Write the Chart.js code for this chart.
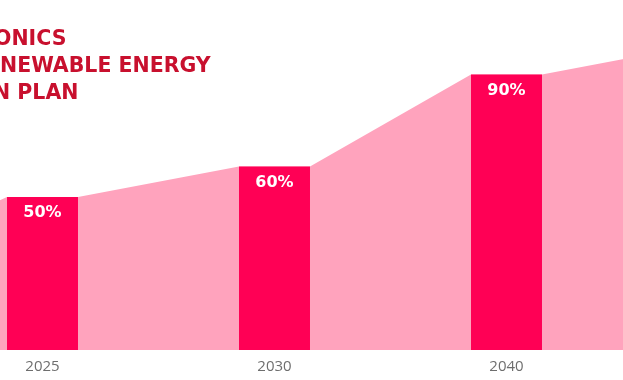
<!DOCTYPE html>
<html>
<head>
<meta charset="utf-8">
<script src="https://cdn.jsdelivr.net/npm/chart.js@4/dist/chart.umd.min.js"></script>
<style>
  html, body { margin: 0; padding: 0; background: #ffffff; }
  #vista { position: relative; width: 623px; height: 380px; overflow: hidden; }
  #grafico { position: absolute; left: -80px; top: 0; }
</style>
</head>
<body>
<div id="vista">
  <canvas id="grafico" width="940" height="388"></canvas>
</div>
<script>
// dados do gráfico
var anos = ['2025', '2030', '2040', '2050'];
var percentuais = [50, 60, 90, 100];
var areaInicio = 38; // valor da área na borda esquerda
var linhasTitulo = ['ONICS', 'NEWABLE ENERGY', 'N PLAN'];

var corBarra = '#ff0055';
var corArea = '#ffa3bd';
var corTitulo = '#c8102e';
var larguraBarra = 0.306;

// monta os pontos da área (topo plano sobre cada barra)
var pontosArea = [{ x: -0.5, y: areaInicio }];
percentuais.forEach(function (v, i) {
    pontosArea.push({ x: i - larguraBarra / 2, y: v });
    pontosArea.push({ x: i + larguraBarra / 2, y: v });
});
pontosArea.push({ x: anos.length - 0.5, y: percentuais[percentuais.length - 1] });

var rotulosBarras = {
    id: 'rotulosBarras',
    afterDatasetsDraw: function (chart) {
        var ctx = chart.ctx;
        var meta = chart.getDatasetMeta(1);
        ctx.save();
        ctx.fillStyle = '#ffffff';
        ctx.font = 'bold 16px "DejaVu Sans"';
        ctx.textAlign = 'center';
        ctx.textBaseline = 'middle';
        meta.data.forEach(function (barra, i) {
            ctx.fillText(percentuais[i] + '%', barra.x, barra.y + 16);
        });
        ctx.restore();
    }
};

var titulo = {
    id: 'titulo',
    afterDraw: function (chart) {
        var ctx = chart.ctx;
        var recuo = [-6, 0, -7];
        ctx.save();
        ctx.fillStyle = corTitulo;
        ctx.font = 'bold 20.5px "DejaVu Sans"';
        ctx.textAlign = 'left';
        ctx.textBaseline = 'alphabetic';
        linhasTitulo.forEach(function (linha, i) {
            ctx.fillText(linha, 80 + recuo[i], 45 + i * 27);
        });
        ctx.restore();
    }
};

var ctx = document.getElementById('grafico').getContext('2d');
window.grafico = new Chart(ctx, {
    type: 'bar',
    data: {
        labels: anos,
        datasets: [{
            type: 'line',
            label: 'area',
            data: pontosArea,
            xAxisID: 'xa',
            fill: 'origin',
            backgroundColor: corArea,
            borderWidth: 0,
            pointRadius: 0,
            tension: 0,
            order: 2
        }, {
            label: 'percentual',
            data: percentuais,
            backgroundColor: corBarra,
            borderWidth: 0,
            grouped: false,
            categoryPercentage: 1,
            barPercentage: larguraBarra,
            order: 1
        }]
    },
    options: {
        responsive: false,
        animation: false,
        layout: {
            padding: { left: 6.5, right: 5.5, top: 44, bottom: 4 }
        },
        scales: {
            x: {
                grid: { display: false, drawTicks: false },
                border: { display: false },
                ticks: {
                    color: '#6e6e6e',
                    padding: 8,
                    font: { family: 'Open Sans', size: 15 }
                }
            },
            xa: {
                type: 'linear',
                display: false,
                offset: false,
                min: -0.5,
                max: anos.length - 0.5
            },
            y: {
                display: false,
                min: 0,
                max: 100
            }
        },
        plugins: {
            legend: { display: false },
            tooltip: { enabled: false }
        }
    },
    plugins: [rotulosBarras, titulo]
});
</script>
</body>
</html>
